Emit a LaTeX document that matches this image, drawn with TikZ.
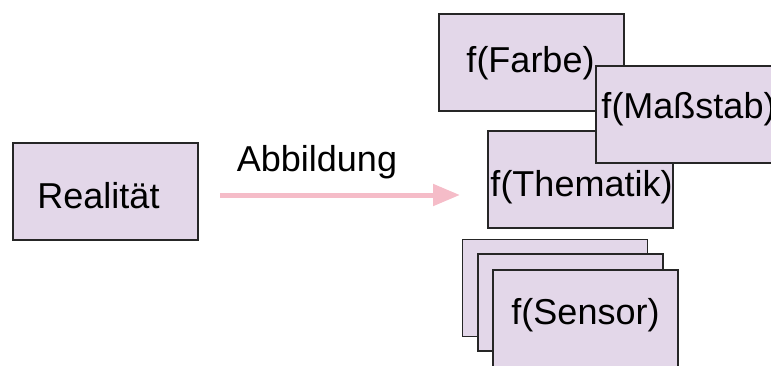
\documentclass[tikz,border=0pt]{standalone}
\usepackage{fontspec}
\setmainfont{Liberation Sans}
\usepackage{xcolor}
\usepackage{tikz}
\usetikzlibrary{positioning,arrows.meta,shapes}

\definecolor{boxfill}{RGB}{227,215,233}
\definecolor{arrowpink}{RGB}{245,188,200}

\begin{document}
\begin{tikzpicture}[x=0.5pt,y=-0.5pt,
  every node/.style={font=\fontsize{18}{22}\selectfont},
  kasten/.style={rectangle,draw=black!85,line width=0.7pt,fill=boxfill,
    minimum width=92.5pt,minimum height=48.5pt,inner sep=0pt},
  pfeil/.style={draw=arrowpink,line width=2.5pt,
    -{Triangle[length=13.5pt,width=10.5pt]}}]
  \clip (0,0) rectangle (771,365);
  % links
  \node[kasten,label={[shift={(-7,4)}]center:Realit\"at}] (real) at (105.5,191.5) {};
  \coordinate (abbstart) at (220,195);
  \coordinate (abbend) at (460,195);
  \draw[pfeil] (abbstart) -- (abbend);
  \node (abb) at (317,162) {Abbildung};
  % rechts oben
  \node[kasten,label={[shift={(-1,1)}]center:f(Farbe)}] (farbe) at (531.5,62.5) {};
  \node[kasten,label={[shift={(1,8)}]center:f(Thematik)}] (thema) at (580.5,179.5) {};
  \node[kasten,label={[shift={(0,-5)}]center:f(Maßstab)}] (mass) at (688.5,114.5) {};
  % Sensoren
  \node[kasten] (sens1) at (555,288) {};
  \node[kasten] (sens2) at (570.5,302.5) {};
  \node[kasten,label={[shift={(0,-3)}]center:f(Sensor)}] (sens3) at (585.5,318.5) {};
\end{tikzpicture}
\end{document}
